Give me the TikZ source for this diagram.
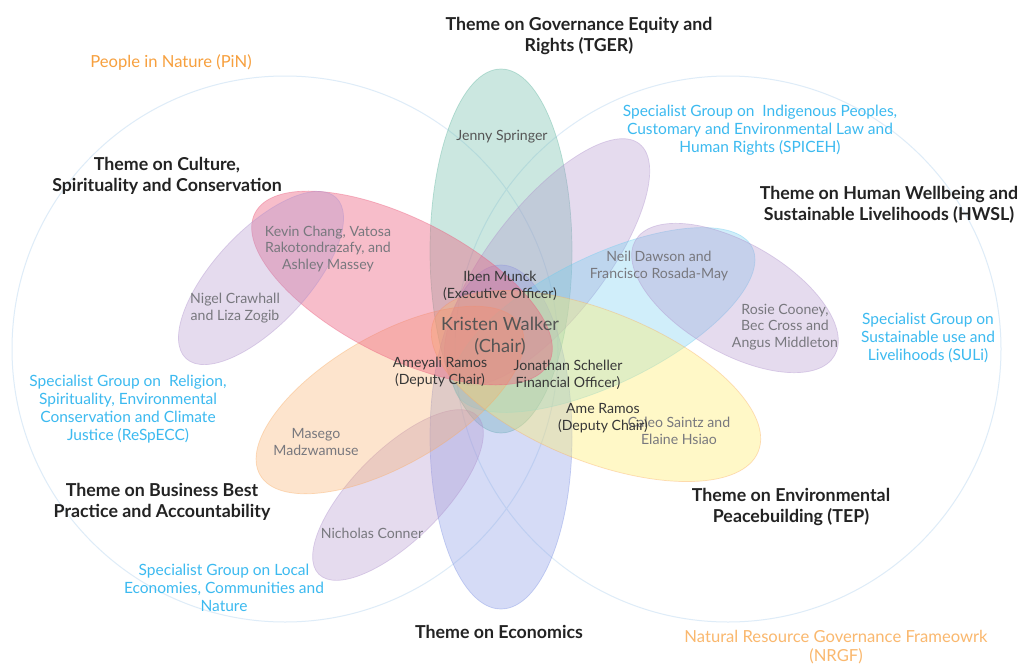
\documentclass[tikz,border=0pt]{standalone}
\usepackage{fontspec}
\setmainfont{Lato}
\usetikzlibrary{shapes.geometric}
\definecolor{cteal}{RGB}{95,182,160}
\definecolor{cred}{RGB}{236,92,124}
\definecolor{corange}{RGB}{250,172,100}
\definecolor{cyellow}{RGB}{255,238,110}
\definecolor{ccyan}{RGB}{110,205,240}
\definecolor{cblue}{RGB}{125,145,228}
\definecolor{cpurple}{RGB}{175,145,205}
\definecolor{ring}{RGB}{222,236,248}
\definecolor{darkt}{RGB}{35,35,35}
\definecolor{sgblue}{RGB}{60,186,240}
\definecolor{pinorange}{RGB}{247,160,62}
\definecolor{nrgforange}{RGB}{250,184,110}
\definecolor{pgray}{RGB}{120,120,126}
\definecolor{odark}{RGB}{55,55,55}
\definecolor{chairgray}{RGB}{85,85,85}
\begin{document}
\begin{tikzpicture}[x=1pt,y=-1pt,
  petal/.style={ellipse, inner sep=0pt, outer sep=0pt, line width=0.7pt, fill opacity=0.32, draw opacity=0.4},
  bigring/.style={circle, inner sep=0pt, draw=ring, line width=1pt, minimum size=546pt},
  theme/.style={font=\fontsize{17.8}{21}\selectfont\bfseries, text=darkt, align=center, inner sep=0pt},
  sg/.style={font=\fontsize{15.5}{18.2}\selectfont, text=sgblue, align=center, inner sep=0pt},
  person/.style={font=\fontsize{14.1}{16.8}\selectfont, text=pgray, align=center, inner sep=0pt},
  officer/.style={font=\fontsize{14.1}{16.8}\selectfont, text=odark, align=center, inner sep=0pt},
  network/.style={font=\fontsize{16.6}{19}\selectfont, align=center, inner sep=0pt}]
\path[use as bounding box] (0,0) rectangle (1021,664);
\fill[white] (0,0) rectangle (1021,664);
% big network circles
\node[bigring] (pinring) at (285,349) {};
\node[bigring] (nrgfring) at (728,349) {};
% petals
\node[petal, draw=cteal, fill=cteal, minimum width=142pt, minimum height=364pt] (tger) at (501,251) {};
\node[petal, draw=cblue, fill=cblue, minimum width=142pt, minimum height=344pt] (econ) at (501,437) {};
\node[petal, draw=cpurple, fill=cpurple, rotate=52, minimum width=300pt, minimum height=114pt] (spiceh) at (547,262) {};
\node[petal, draw=ccyan, fill=ccyan, rotate=26, minimum width=330pt, minimum height=128pt] (hwsl) at (604,320) {};
\node[petal, draw=cpurple, fill=cpurple, rotate=-30, minimum width=230pt, minimum height=110pt] (suli) at (735,298) {};
\node[petal, draw=corange, fill=cyellow, fill opacity=0.38, rotate=-22, minimum width=350pt, minimum height=150pt] (tep) at (596,386) {};
\node[petal, draw=cpurple, fill=cpurple, rotate=45, minimum width=224pt, minimum height=90pt] (lecn) at (398,495) {};
\node[petal, draw=corange, fill=corange, rotate=30, minimum width=300pt, minimum height=130pt] (bbpa) at (390,400) {};
\node[petal, draw=cred, fill=cred, fill opacity=0.4, rotate=-27, minimum width=330pt, minimum height=138pt] (csc) at (402,288) {};
\node[petal, draw=cpurple, fill=cpurple, rotate=47, minimum width=220pt, minimum height=94pt] (respecc) at (261,278) {};
% theme and group labels
\node[theme] (ltger) at (579,36) {Theme on Governance Equity and\\Rights (TGER)};
\node[network, text=pinorange] (lpin) at (171,62) {People in Nature (PiN)};
\node[sg] (lspiceh) at (760,130) {Specialist Group on~~Indigenous Peoples,\\Customary and Environmental Law and\\Human Rights (SPICEH)};
\node[theme] (lcsc) at (167,176) {Theme on Culture,\\Spirituality and Conservation};
\node[theme] (lhwsl) at (889,205) {Theme on Human Wellbeing and\\Sustainable Livelihoods (HWSL)};
\node[sg] (lsuli) at (928,338) {Specialist Group on\\Sustainable use and\\Livelihoods (SULi)};
\node[sg] (lrespecc) at (128,409) {Specialist Group on~~Religion,\\Spirituality, Environmental\\Conservation and Climate\\Justice (ReSpECC)};
\node[theme] (lbbpa) at (162,502) {Theme on Business Best\\Practice and Accountability};
\node[theme] (ltep) at (791,507) {Theme on Environmental\\Peacebuilding (TEP)};
\node[sg] (llecn) at (224,588) {Specialist Group on Local\\Economies, Communities and\\Nature};
\node[theme] (lecon) at (499,632) {Theme on Economics};
\node[network, text=nrgforange] (lnrgf) at (836,647) {Natural Resource Governance Frameowrk\\(NRGF)};
% people
\node[officer, text=chairgray] (jenny) at (502,137) {Jenny Springer};
\node[person] (kevin) at (328,249) {Kevin Chang, Vatosa\\Rakotondrazafy, and\\Ashley Massey};
\node[officer] (iben) at (500,286) {Iben Munck\\(Executive Officer)};
\node[person] (neil) at (659,266) {Neil Dawson and\\Francisco Rosada-May};
\node[person] (nigel) at (235,308) {Nigel Crawhall\\and Liza Zogib};
\node[person] (rosie) at (785,327) {Rosie Cooney,\\Bec Cross and\\Angus Middleton};
\node[font=\fontsize{18.2}{22}\selectfont, text=chairgray, align=center, inner sep=0pt] (kristen) at (500,336) {Kristen Walker\\(Chair)};
\node[officer] (ameyali) at (440,372) {Ameyali Ramos\\(Deputy Chair)};
\node[officer] (jonathan) at (568,375) {Jonathan Scheller\\Financial Officer)};
\node[person] (caleo) at (679,431) {Caleo Saintz and\\Elaine Hsiao};
\node[officer] (ame) at (603,418) {Ame Ramos\\(Deputy Chair)};
\node[person] (masego) at (316,442) {Masego\\Madzwamuse};
\node[person] (nicholas) at (372,533) {Nicholas Conner};
\end{tikzpicture}
\end{document}
